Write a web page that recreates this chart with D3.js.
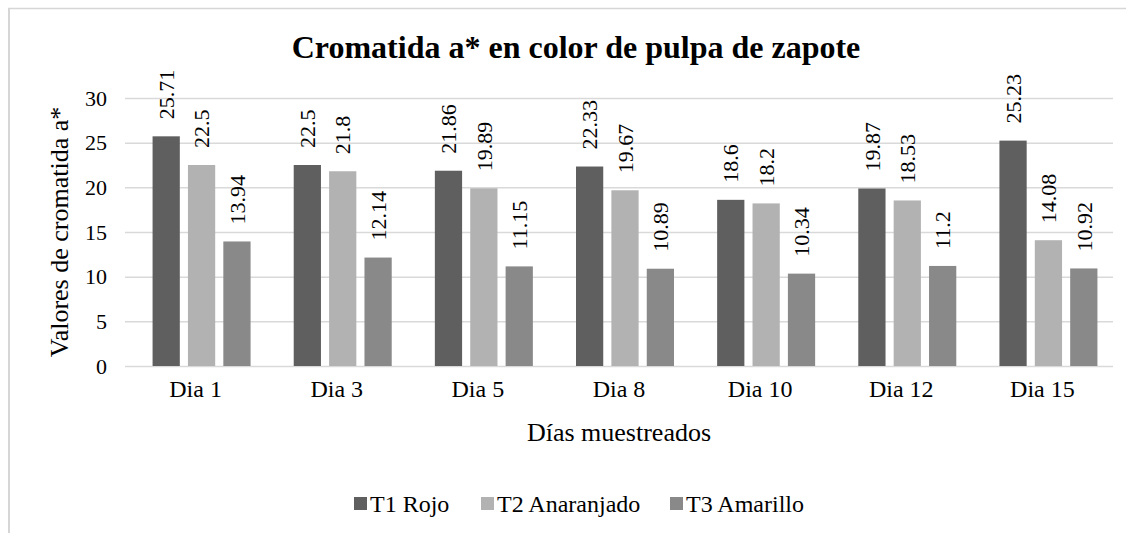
<!DOCTYPE html>
<html>
<head>
<meta charset="utf-8">
<script src="https://cdn.jsdelivr.net/npm/d3@7"></script>
<style>
  body { margin: 0; background: #fff; }
  text { font-family: "Liberation Serif", "Times New Roman", serif; fill: #000; }
</style>
</head>
<body>
<div id="chart"></div>
<script>
//Chart Data
let days = ["Dia 1", "Dia 3", "Dia 5", "Dia 8", "Dia 10", "Dia 12", "Dia 15"];
let seriesNames = ["T1 Rojo", "T2 Anaranjado", "T3 Amarillo"];
let t1Rojo = [25.71, 22.5, 21.86, 22.33, 18.6, 19.87, 25.23];
let t2Anaranjado = [22.5, 21.8, 19.89, 19.67, 18.2, 18.53, 14.08];
let t3Amarillo = [13.94, 12.14, 11.15, 10.89, 10.34, 11.2, 10.92];
let yTicks = [0, 5, 10, 15, 20, 25, 30];
let colors = ["#5f5f5f", "#b2b2b2", "#898989"];

//Size of the SVG
let svgWidth = 1135;
let svgHeight = 533;

//Plot Area Inside the SVG
let margin = { top: 98, bottom: 167, left: 125, right: 22 };
let width = svgWidth - margin.left - margin.right;
let height = svgHeight - margin.top - margin.bottom;

let svg = d3.select("#chart")
  .append("svg")
  .attr("width", svgWidth)
  .attr("height", svgHeight);

svg.append("rect")
  .attr("width", svgWidth)
  .attr("height", svgHeight)
  .attr("fill", "#fff");

//Chart Border (Top and Left Visible)
svg.append("line")
  .attr("x1", 8).attr("x2", 1126)
  .attr("y1", 8.5).attr("y2", 8.5)
  .attr("stroke", "#d6d6d6")
  .attr("stroke-width", 1.5);
svg.append("line")
  .attr("x1", 9).attr("x2", 9)
  .attr("y1", 8).attr("y2", svgHeight)
  .attr("stroke", "#d6d6d6")
  .attr("stroke-width", 2);

let chartGroup = svg.append("g")
  .attr("transform", `translate(${margin.left}, ${margin.top})`);

//Scales
let xScale = d3.scaleBand()
  .domain(days)
  .range([0, width]);
let xInner = d3.scaleBand()
  .domain(seriesNames)
  .range([-43, 55])
  .paddingInner(0.23);
let yScale = d3.scaleLinear()
  .domain([0, 30])
  .range([height, 0]);

//Gridlines
chartGroup.append("g")
  .selectAll("line")
  .data(yTicks)
  .enter()
  .append("line")
  .attr("x1", 0)
  .attr("x2", width)
  .attr("y1", d => yScale(d) + 0.5)
  .attr("y2", d => yScale(d) + 0.5)
  .attr("stroke", "#d9d9d9")
  .attr("stroke-width", 1.5);

//Left Axis Labels
let leftAxis = d3.axisLeft(yScale)
  .tickValues(yTicks)
  .tickSize(0)
  .tickPadding(18);
let leftG = chartGroup.append("g")
  .call(leftAxis)
  .attr("font-family", null);
leftG.select(".domain").remove();
leftG.selectAll("text")
  .style("font-size", "22px")
  .attr("fill", "#000");

//Bottom Axis Labels
let bottomAxis = d3.axisBottom(xScale)
  .tickSize(0)
  .tickPadding(14);
let bottomG = chartGroup.append("g")
  .attr("transform", `translate(0, ${height})`)
  .call(bottomAxis)
  .attr("font-family", null);
bottomG.select(".domain").remove();
bottomG.selectAll("text")
  .style("font-size", "24px")
  .attr("fill", "#000");

//Build Rows From the Named Arrays
let rows = days.map((day, i) => ({
  day: day,
  values: [t1Rojo[i], t2Anaranjado[i], t3Amarillo[i]].map((v, j) => ({ series: seriesNames[j], value: v, color: colors[j] }))
}));

let groups = chartGroup.selectAll(".day")
  .data(rows)
  .enter()
  .append("g")
  .attr("class", "day")
  .attr("transform", d => `translate(${xScale(d.day) + xScale.bandwidth() / 2}, 0)`);

//Bars
groups.selectAll("rect")
  .data(d => d.values)
  .enter()
  .append("rect")
  .attr("x", d => xInner(d.series))
  .attr("y", d => yScale(d.value))
  .attr("width", xInner.bandwidth())
  .attr("height", d => height - yScale(d.value))
  .attr("fill", d => d.color);

//Rotated Value Labels
groups.selectAll("text.val")
  .data(d => d.values)
  .enter()
  .append("text")
  .attr("class", "val")
  .attr("transform", d => `translate(${xInner(d.series) + xInner.bandwidth() / 2}, ${yScale(d.value) - 17}) rotate(-90)`)
  .attr("dy", "0.35em")
  .style("font-size", "22px")
  .text(d => d.value);

//Title
svg.append("text")
  .attr("x", 576)
  .attr("y", 58)
  .attr("text-anchor", "middle")
  .style("font-size", "32px")
  .style("font-weight", "bold")
  .text("Cromatida a* en color de pulpa de zapote");

//Axis Titles
svg.append("text")
  .attr("transform", `translate(68, ${margin.top + height / 2}) rotate(-90)`)
  .attr("text-anchor", "middle")
  .style("font-size", "26px")
  .text("Valores de cromatida a*");

svg.append("text")
  .attr("x", margin.left + width / 2)
  .attr("y", 441)
  .attr("text-anchor", "middle")
  .style("font-size", "26px")
  .text("Días muestreados");

//Legend
let legend = svg.append("g")
  .attr("transform", "translate(354, 512)");
let legendX = [0, 127, 316];
let legendItems = legend.selectAll("g")
  .data(seriesNames)
  .enter()
  .append("g")
  .attr("transform", (d, i) => `translate(${legendX[i]}, 0)`);
legendItems.append("rect")
  .attr("x", 0)
  .attr("y", -15)
  .attr("width", 13)
  .attr("height", 13)
  .attr("fill", (d, i) => colors[i]);
legendItems.append("text")
  .attr("x", 16)
  .attr("y", 0)
  .style("font-size", "24px")
  .text(d => d);
</script>
</body>
</html>
